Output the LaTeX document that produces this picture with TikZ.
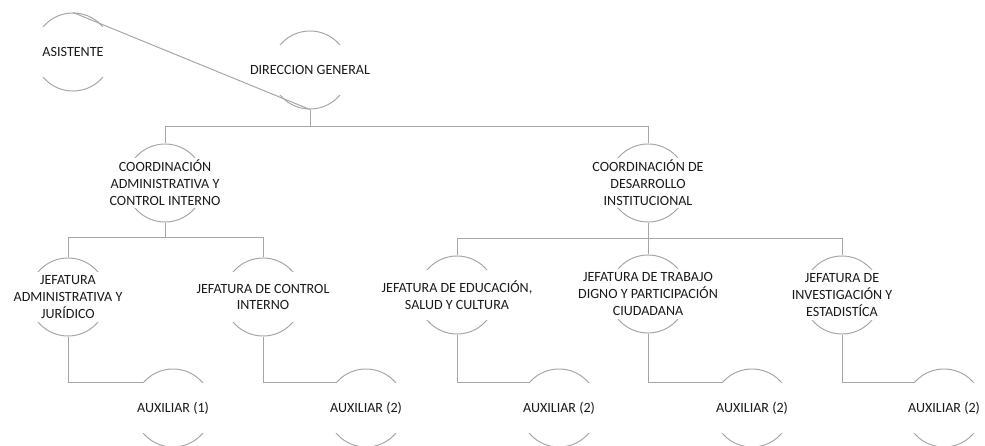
\documentclass[tikz,border=0pt]{standalone}
\usepackage{fontspec}
\setmainfont{Carlito}
\usepackage{tikz}
\usetikzlibrary{positioning,calc}
\definecolor{ORGline}{HTML}{A6A6A6}
\definecolor{ORGtext}{HTML}{1A1A1A}
\tikzset{
  unitring/.style={circle, draw=ORGline, line width=0.7pt, minimum size=1.95cm, inner sep=0pt},
  unitlabel/.style={fill=white, align=center, font=\fontsize{10}{12}\selectfont, text=ORGtext, minimum width=2.05cm, minimum height=1.25cm, inner sep=1pt},
  orgline/.style={draw=ORGline, line width=0.7pt}
}

\begin{document}
\begin{tikzpicture}[x=0.025cm, y=-0.025cm]
\useasboundingbox (0,0) rectangle (985,446);
% rings
\node[unitring] (asis) at (73,52) {};
\node[unitring] (dg) at (310,70) {};
\node[unitring] (ca) at (165,183) {};
\node[unitring] (cd) at (648,183) {};
\node[unitring] (ja) at (68,297) {};
\node[unitring] (jc) at (263,297) {};
\node[unitring] (je) at (457,295) {};
\node[unitring] (jt) at (648,294) {};
\node[unitring] (ji) at (842,295) {};
\node[unitring] (a1) at (173,408) {};
\node[unitring] (a2) at (366,408) {};
\node[unitring] (a3) at (559,408) {};
\node[unitring] (a4) at (752,408) {};
\node[unitring] (a5) at (944,408) {};
% labels
\node[unitlabel] (asis-t) at (asis) {ASISTENTE};
\node[unitlabel] (dg-t) at (dg) {DIRECCION GENERAL};
\node[unitlabel] (ca-t) at (ca) {COORDINACIÓN\\ADMINISTRATIVA Y\\CONTROL INTERNO};
\node[unitlabel] (cd-t) at (cd) {COORDINACIÓN DE\\DESARROLLO\\INSTITUCIONAL};
\node[unitlabel] (ja-t) at (ja) {JEFATURA\\ADMINISTRATIVA Y\\JURÍDICO};
\node[unitlabel] (jc-t) at (jc) {JEFATURA DE CONTROL\\INTERNO};
\node[unitlabel] (je-t) at (je) {JEFATURA DE EDUCACIÓN,\\SALUD Y CULTURA};
\node[unitlabel] (jt-t) at (jt) {JEFATURA DE TRABAJO\\DIGNO Y PARTICIPACIÓN\\CIUDADANA};
\node[unitlabel] (ji-t) at (ji) {JEFATURA DE\\INVESTIGACIÓN Y\\ESTADISTÍCA};
\foreach \n/\k in {a1/1,a2/2,a3/2,a4/2,a5/2}
  \node[unitlabel] (\n-t) at (\n) {AUXILIAR (\k)};
% connectors
\draw[orgline] (asis.north) -- (dg.south);
\draw[orgline] (dg.south) -- ++(0,17) -| (ca.north);
\draw[orgline] (dg.south) -- ++(0,17) -| (cd.north);
\draw[orgline] (ca.south) -- ++(0,15) -| (ja.north);
\draw[orgline] (ca.south) -- ++(0,15) -| (jc.north);
\draw[orgline] (cd.south) -- ++(0,16) -| (je.north);
\draw[orgline] (cd.south) -- (jt.north);
\draw[orgline] (cd.south) -- ++(0,16) -| (ji.north);
\draw[orgline] (ja.south) |- (a1.140);
\draw[orgline] (jc.south) |- (a2.140);
\draw[orgline] (je.south) |- (a3.140);
\draw[orgline] (jt.south) |- (a4.140);
\draw[orgline] (ji.south) |- (a5.140);
\end{tikzpicture}
\end{document}
